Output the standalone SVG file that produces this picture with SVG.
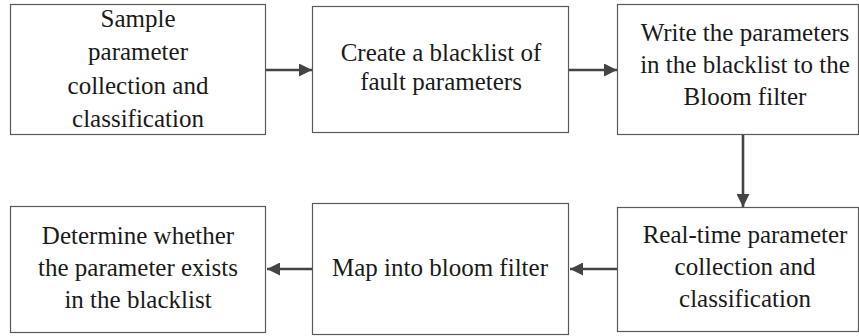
<svg xmlns="http://www.w3.org/2000/svg" width="859" height="336" viewBox="0 0 859 336">
  <style>
    .box { fill: #ffffff; stroke: #5a5a5a; stroke-width: 1.2; }
    .label { font-family: "Liberation Serif", "DejaVu Serif", "Times New Roman", Times, serif; font-size: 25px; fill: #1a1a1a; text-anchor: middle; }
    .flow { stroke: #444444; stroke-width: 2.6; fill: none; }
  </style>
  <defs>
    <marker id="arrowhead" viewBox="0 0 10 10" refX="10" refY="5" markerWidth="5" markerHeight="5" orient="auto" markerUnits="strokeWidth">
      <path d="M0,0 L10,5 L0,10 Z" fill="#444444"/>
    </marker>
  </defs>
  <rect width="859" height="336" fill="#ffffff"/>

  <g id="node-sample-collection">
    <rect class="box" x="10.5" y="4.5" width="255" height="130"/>
    <text class="label" x="138" y="27">Sample</text>
    <text class="label" x="138" y="60">parameter</text>
    <text class="label" x="138" y="94">collection and</text>
    <text class="label" x="138" y="127">classification</text>
  </g>

  <g id="node-create-blacklist">
    <rect class="box" x="312.5" y="6.5" width="256" height="126"/>
    <text class="label" x="441" y="61">Create a blacklist of</text>
    <text class="label" x="441" y="90">fault parameters</text>
  </g>

  <g id="node-write-bloom">
    <rect class="box" x="617.5" y="4.5" width="241" height="130"/>
    <text class="label" x="745" y="41">Write the parameters</text>
    <text class="label" x="745" y="73">in the blacklist to the</text>
    <text class="label" x="745" y="105">Bloom filter</text>
  </g>

  <g id="node-realtime-collection">
    <rect class="box" x="617.5" y="207.5" width="241" height="124"/>
    <text class="label" x="745" y="243">Real-time parameter</text>
    <text class="label" x="745" y="275">collection and</text>
    <text class="label" x="745" y="307">classification</text>
  </g>

  <g id="node-map-bloom">
    <rect class="box" x="312.5" y="203.5" width="256" height="131"/>
    <text class="label" x="440" y="276">Map into bloom filter</text>
  </g>

  <g id="node-determine">
    <rect class="box" x="10.5" y="206.5" width="255" height="126"/>
    <text class="label" x="138" y="244">Determine whether</text>
    <text class="label" x="138" y="276">the parameter exists</text>
    <text class="label" x="138" y="308">in the blacklist</text>
  </g>

  <g id="connectors">
    <line class="flow" x1="266" y1="70" x2="312" y2="70" marker-end="url(#arrowhead)"/>
    <line class="flow" x1="569" y1="70" x2="617" y2="70" marker-end="url(#arrowhead)"/>
    <line class="flow" x1="743" y1="135" x2="743" y2="207" marker-end="url(#arrowhead)"/>
    <line class="flow" x1="617" y1="269" x2="570" y2="269" marker-end="url(#arrowhead)"/>
    <line class="flow" x1="312" y1="269" x2="267" y2="269" marker-end="url(#arrowhead)"/>
  </g>
</svg>
